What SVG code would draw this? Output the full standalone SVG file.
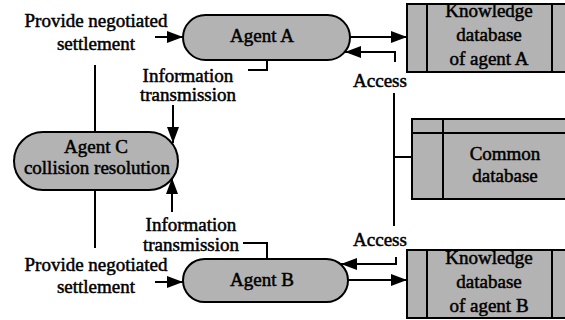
<svg xmlns="http://www.w3.org/2000/svg" width="565" height="320" viewBox="0 0 565 320">
  <defs>
    <marker id="arrow" viewBox="0 0 16 12" refX="16" refY="6" markerWidth="16" markerHeight="12" markerUnits="userSpaceOnUse" orient="auto">
      <path d="M0,0 L16,6 L0,12 Z" fill="#000"/>
    </marker>
  </defs>
  <style>
    text { font-family: "Liberation Serif", Tinos, "Times New Roman", Times, "DejaVu Serif", serif; font-size: 19px; fill: #000; stroke: #000; stroke-width: 0.5; text-anchor: middle; }
    .node { fill: #b3b3b3; stroke: #000; stroke-width: 2; }
    .div { stroke: #000; stroke-width: 2; fill: none; }
    .conn { stroke: #000; stroke-width: 2; fill: none; }
    .arr { marker-end: url(#arrow); }
  </style>
  <rect width="565" height="320" fill="#fff"/>

  <!-- connectors -->
  <g id="connectors">
    <path class="conn arr" d="M155,37 H183"/>
    <path class="conn" d="M267,60 V70 H248"/>
    <path class="conn arr" d="M173,105 V143"/>
    <path class="conn" d="M95,65 V132"/>
    <path class="conn" d="M95,190 V248"/>
    <path class="conn arr" d="M172,212 V178"/>
    <path class="conn" d="M243,243 H267 V259"/>
    <path class="conn arr" d="M155,282 H183"/>
    <path class="conn arr" d="M350,37 H407"/>
    <path class="conn arr" d="M395,62 V52 H345"/>
    <path class="conn" d="M394,93 V226"/>
    <path class="conn" d="M394,157 H412"/>
    <path class="conn arr" d="M396,257 V264 H341"/>
    <path class="conn arr" d="M348,280 H407"/>
  </g>

  <!-- free labels -->
  <g id="labels">
    <text x="96" y="27">Provide negotiated</text>
    <text x="96" y="50">settlement</text>
    <text x="188" y="82">Information</text>
    <text x="188" y="101">transmission</text>
    <text x="191" y="231">Information</text>
    <text x="191" y="251">transmission</text>
    <text x="96" y="271">Provide negotiated</text>
    <text x="96" y="293">settlement</text>
    <text x="380" y="87">Access</text>
    <text x="380" y="246">Access</text>
  </g>

  <g id="agent-a">
    <rect class="node" x="183" y="15" width="167" height="45" rx="22.5"/>
    <text x="262" y="42">Agent A</text>
  </g>

  <g id="agent-b">
    <rect class="node" x="183" y="259" width="165" height="43" rx="21.5"/>
    <text x="262" y="286">Agent B</text>
  </g>

  <g id="agent-c">
    <rect class="node" x="14" y="132" width="164" height="58" rx="29"/>
    <text x="96" y="153">Agent C</text>
    <text x="97" y="174">collision resolution</text>
  </g>

  <g id="kb-a">
    <rect class="node" x="407" y="4" width="170" height="68"/>
    <path class="div" d="M427,4 V72 M552,4 V72"/>
    <text x="489" y="17">Knowledge</text>
    <text x="489" y="41">database</text>
    <text x="489" y="65">of agent A</text>
  </g>

  <g id="common-db">
    <rect class="node" x="412" y="119" width="165" height="80"/>
    <path class="div" d="M443,119 V199 M412,133 H577"/>
    <text x="505" y="160">Common</text>
    <text x="505" y="182">database</text>
  </g>

  <g id="kb-b">
    <rect class="node" x="407" y="250" width="170" height="68"/>
    <path class="div" d="M427,250 V318 M552,250 V318"/>
    <text x="489" y="264">Knowledge</text>
    <text x="489" y="288">database</text>
    <text x="489" y="312">of agent B</text>
  </g>
</svg>
